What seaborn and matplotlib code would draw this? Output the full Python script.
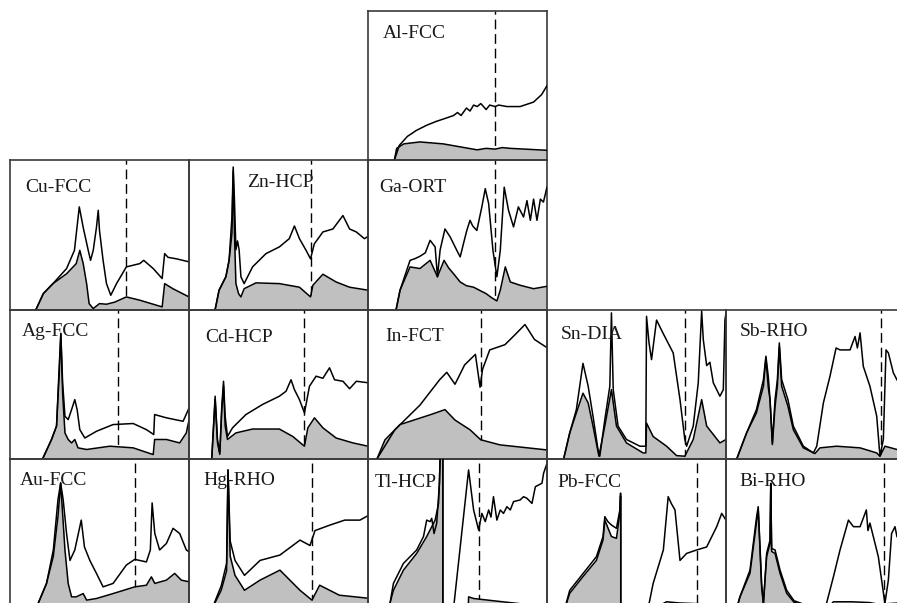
import matplotlib
matplotlib.use("Agg")
import matplotlib.pyplot as plt
import seaborn as sns

sns.set_style("white")
plt.rcParams['font.family'] = ['Liberation Serif', 'DejaVu Serif']

# ---------------- data (x: 0..100 across panel, y: 0..100 up the panel) ----------------
AL_UP_X = [14.7, 17.5, 22, 27, 32.8, 38, 43, 47.8, 50, 52, 55, 57, 59, 61, 63, 66, 68, 71, 73, 77.6, 85, 92.5, 97, 100]
AL_UP_Y = [0, 10, 16, 20, 23.5, 26, 28, 30, 32, 30, 35, 33, 37, 36, 38, 34, 37, 36, 37, 36, 36, 39, 44, 50]
AL_LO_X = [14.7, 16, 20, 29, 42, 51.5, 61, 66, 71, 75, 79.5, 89, 100]
AL_LO_Y = [0, 8, 11, 12.3, 11, 9, 7, 8, 7.5, 8.5, 8, 7.4, 6.7]

CU_UP_X = [14.5, 18.6, 24, 31.6, 36, 38.7, 40.9, 43.7, 45, 46.5, 48.3, 49.3, 50, 52, 53.9, 56.3, 59.5, 65, 72.5, 74.7, 80, 85, 86.4, 88.3, 93, 100]
CU_UP_Y = [0, 10.7, 17.4, 27.5, 39.7, 68.8, 55, 39.7, 33, 39.7, 55, 66.5, 53, 33, 17.4, 9.6, 17.4, 28.6, 30.8, 33, 27.5, 20.8, 37.5, 35, 34, 32]
CU_LO_X = [14.5, 18.6, 24, 31.6, 37, 39, 40.9, 42.8, 44.2, 46.5, 50, 53.9, 58.5, 65, 72.5, 85, 86.4, 91, 100]
CU_LO_Y = [0, 10.7, 17.4, 24, 30.8, 39.7, 30.8, 17.4, 4, 0.7, 4, 3.6, 5, 8.5, 6.3, 1.8, 17.4, 14, 8.5]

ZN_UP_X = [14.6, 16.8, 20.6, 22.4, 24, 24.7, 25.4, 26.2, 27.1, 28, 29, 30.8, 35.5, 43, 50.5, 56, 58.9, 61.7, 65.4, 67.9, 70, 74.8, 80.4, 86, 89.7, 93.5, 98, 100]
ZN_UP_Y = [0, 13, 22, 33, 62, 95.5, 73, 40, 46, 40, 22, 17.4, 28.6, 37.5, 42, 47.5, 56, 47.5, 39.7, 34, 44, 52, 54, 63, 54, 52, 47.5, 49]
ZN_LO_X = [14.6, 16.8, 20.6, 22.4, 24, 24.7, 25.4, 26.2, 27.7, 29, 30.8, 37.4, 50.5, 61.7, 67.9, 69.2, 74.8, 82.2, 89.7, 100]
ZN_LO_Y = [0, 13, 22, 33, 51, 93, 51, 17.4, 10.7, 8.5, 14, 17.9, 17.4, 15, 8.5, 16.3, 23.7, 18.5, 15, 13]

GA_UP_X = [15.7, 17.9, 23.5, 26, 29, 32, 34.7, 37.5, 38.8, 40.3, 43, 45.9, 49.6, 51.5, 53.5, 55.2, 57, 58.5, 60.8, 63.6, 65.5, 67.4, 69.8, 72, 73.9, 76.1, 78.5, 81.3, 84, 86.9, 88.8, 90.7, 92.5, 94.4, 96.3, 98, 100]
GA_UP_Y = [0, 13, 33, 34, 35.7, 38, 46.4, 42, 22, 40, 54, 48.7, 39.7, 35.3, 45, 53, 59.8, 56, 53, 68.8, 81, 71, 39.7, 22, 39.7, 82, 66.5, 55.4, 68.8, 62, 73, 59.8, 74, 59.8, 74, 72, 82]
GA_LO_X = [15.7, 17.9, 23.5, 29, 34.7, 38.8, 42.5, 45, 47.8, 51.5, 55, 59, 63, 66, 69, 72, 73.9, 76.7, 79.5, 85, 92.5, 100]
GA_LO_Y = [0, 13, 28.6, 27.5, 33, 22, 33, 28, 24, 18.5, 16, 15, 12.5, 10.7, 8, 5.8, 13, 28.6, 18.5, 16.3, 14, 15.6]

AG_UP_X = [18.2, 23.2, 26, 27.5, 28.4, 29.4, 30.7, 32.5, 34.4, 36.2, 37.5, 39, 41.8, 48.3, 57.6, 68.8, 76.2, 80.3, 80.8, 87.4, 96.7, 100]
AG_UP_Y = [0, 13, 22, 62, 84, 51, 28.6, 26.3, 33, 39.7, 33, 19.6, 14, 18.5, 23, 23.7, 19.6, 16.3, 29.7, 27.5, 25.2, 34]
AG_LO_X = [18.2, 23.2, 26, 27.5, 28.4, 29.4, 30.7, 32.5, 34.4, 36.2, 38, 42.8, 55.8, 68.8, 80, 80.8, 87.4, 94.8, 98.5, 100]
AG_LO_Y = [0, 13, 22, 57, 84, 44, 17.4, 13, 10.7, 13, 7.4, 6.3, 8.5, 7.4, 2.9, 13, 13, 10.7, 17.4, 26]

CD_UP_X = [12.7, 14.6, 15.9, 17.2, 18.3, 19.3, 20.2, 21.5, 24.3, 31.8, 41, 50.5, 54.2, 57, 58.9, 61.7, 64.5, 67.3, 71, 74.8, 78.5, 81.3, 86, 89.7, 93.5, 100]
CD_UP_Y = [0, 42, 13, 4, 35, 52, 28.6, 15, 20.8, 29.7, 36.4, 42, 45.3, 53, 46.4, 39.7, 30.8, 48.7, 55.4, 54, 61, 53, 52, 47, 52, 51]
CD_LO_X = [12.7, 14.6, 15.9, 17.2, 18.3, 19.3, 20.2, 21.5, 26.2, 35.5, 50.5, 58, 64.5, 66.4, 70.1, 74.8, 82.2, 91.6, 100]
CD_LO_Y = [0, 40, 11, 3, 32, 49, 22, 13, 17.4, 20, 20, 15, 8.5, 20.8, 27.5, 20.8, 14, 10.7, 8.5]

IN_UP_X = [5, 15, 29, 40, 44, 48.6, 54, 60, 62.6, 64, 68, 76.5, 82, 87.7, 93, 100]
IN_UP_Y = [0, 19.5, 36, 53, 58, 50, 63, 70, 48, 60, 73, 76.5, 83, 90, 80, 74.5]
IN_LO_X = [5, 9.5, 17.9, 34.6, 43, 48.6, 57, 63, 73.7, 100]
IN_LO_Y = [0, 12.8, 23, 29.5, 33, 26, 19.5, 12.8, 9.4, 6]

SN_UP_X = [9.3, 12.7, 16.4, 20.1, 23, 25.7, 28.5, 29.5, 32.3, 35.1, 36, 37, 39.7, 44.4, 51.9, 55.2, 55.6, 57, 58.4, 61.2, 64.9, 70.5, 74.3, 77, 78, 81.7, 84.5, 86.4, 87.3, 89.2, 91, 92.9, 96.6, 98.5, 99.4, 100]
SN_UP_Y = [0, 17.4, 33, 64, 48.7, 28.6, 6.3, 1.8, 26.3, 48.7, 97.8, 46.4, 22, 13, 8.5, 8.5, 95.5, 77.7, 66.5, 93, 84, 71, 39.7, 13, 8.5, 22, 51, 99, 80, 62.5, 64.7, 51, 42, 46.4, 93, 97.8]
SN_LO_X = [9.3, 12.7, 16.4, 20.1, 23, 25.7, 29, 32.3, 36, 38.8, 44.4, 53.7, 55.2, 55.6, 59.3, 66.8, 72.4, 77, 81.7, 86.4, 89.2, 96.6, 100]
SN_LO_Y = [0, 17.4, 30.8, 44, 37.5, 22, 1.8, 22, 46.4, 22, 10.7, 4, 4, 24, 15, 8.5, 2.2, 1.8, 13, 39.7, 22, 10.7, 13]

SB_UP_X = [6, 11.5, 17, 20.9, 22.3, 23.6, 24.6, 25.9, 27.4, 28.7, 29.8, 31.1, 34.6, 37.6, 43.2, 48.8, 50.7, 54.4, 58.1, 61.5, 63.7, 69.3, 72.1, 73.4, 74.9, 76.7, 80.4, 84.2, 86, 87.9, 89.4, 90.7, 93.5, 95.5, 100]
SB_UP_Y = [0, 17.4, 33, 53, 68.8, 55.4, 39.7, 10.7, 39.7, 53, 77.7, 53, 39.7, 22, 8.5, 4, 8.5, 37.5, 55.4, 74.3, 73, 73, 82, 74.3, 84.4, 62, 48.7, 28.6, 1.8, 13, 73, 71, 57.6, 53, 45]
SB_LO_X = [6, 11.5, 17, 20.9, 22.3, 23.6, 24.6, 25.9, 27.4, 28.7, 29.8, 31.1, 34.6, 37.6, 43.2, 49.7, 52.5, 61.8, 74.9, 84.2, 86, 88.8, 95.5, 100]
SB_LO_Y = [0, 17.4, 30.8, 48.7, 67.6, 48, 39.7, 9.6, 35, 48.7, 75, 48.7, 35.3, 19.6, 7.4, 3.6, 7.4, 8.5, 7.4, 4, 1.8, 8.5, 6.3, 6]

AU_UP_X = [14.5, 15.8, 20.4, 24.2, 26.8, 28.3, 29.7, 31.6, 33.5, 36.2, 39.8, 41.6, 44.6, 48.3, 52, 57.6, 65, 69.7, 76.2, 78.4, 79.4, 80.9, 83.6, 87.4, 91.1, 94.8, 98.5, 100]
AU_UP_Y = [0, 3.4, 16.6, 39, 72.7, 83.9, 72.7, 50, 32, 39, 59, 41, 32, 23.3, 14.3, 16.6, 28.9, 32.7, 31, 39, 70.5, 50, 39, 43.4, 53.5, 50, 39, 37.8]
AU_LO_X = [14.5, 15.8, 20.4, 24.2, 26.8, 28.3, 30.7, 32.5, 34.4, 37, 40.9, 42.8, 48.3, 57.6, 69.7, 76.2, 79, 80.9, 87.4, 92, 95.7, 100]
AU_LO_Y = [0, 3.4, 16.6, 34.7, 61.5, 83.9, 39, 16.6, 7.6, 7.6, 9.8, 5.4, 6.5, 9.8, 14.3, 15.4, 21, 16.6, 18.8, 23.3, 18.8, 17.7]

HG_UP_X = [13, 18, 21, 21.8, 23, 25.7, 31, 39.7, 50.8, 62, 67.6, 70.4, 78.8, 87, 95.5, 100]
HG_UP_Y = [0, 15, 30, 92.6, 45, 32, 22, 32, 35.6, 45.6, 42, 52, 55.7, 59, 59, 62]
HG_LO_X = [13, 18, 21, 21.8, 23, 25.7, 31, 39.7, 50.8, 62, 68.7, 73, 84, 100]
HG_LO_Y = [0, 12, 25, 92.6, 35, 22, 12, 18.8, 25.5, 12, 5.4, 15.4, 8.7, 6.7]

TL_UP_X = [11, 12.3, 14.2, 19.8, 27.2, 31, 32.8, 34.7, 35.6, 36.9, 38.4, 39.9, 40.5, 41.8, 41.8, 47.8, 56.2, 59, 61.8, 63.6, 65.5, 67.4, 68.7, 70.1, 72, 73.9, 75.7, 77.6, 79.5, 81.3, 85, 86.9, 88.8, 91.6, 93.5, 97.2, 98.1, 100]
TL_UP_Y = [0, 3.4, 16.6, 30, 39, 48, 59, 58, 60.2, 50, 57, 83.7, 110, 110, 0, 0, 92.6, 65.8, 52.3, 63.5, 58, 65.8, 61, 74.7, 59, 65.8, 63.5, 68, 65.8, 71.4, 72.5, 74.7, 73.6, 70.2, 81.4, 83.7, 90.4, 97]
TL_LO_X = [11, 12.3, 14.2, 19.8, 27.2, 32.8, 37.5, 39.4, 39.9, 40.5, 41.8, 41.8, 56, 56.2, 59, 70, 85, 100]
TL_LO_Y = [0, 3.4, 12, 25.5, 36.7, 48, 59, 70, 83.7, 110, 110, 0, 0, 7.6, 6.5, 5, 3, 2]

PB_UP_X = [10, 12.7, 20, 27.6, 31.3, 32.3, 34, 36, 38.8, 40.7, 41, 41.2, 41.2, 56.5, 59.3, 65, 67.7, 69.5, 71.5, 74.3, 78, 83.6, 89.2, 94.8, 97.6, 100]
PB_UP_Y = [0, 12, 23, 34.5, 48, 61.3, 58, 55.7, 53.5, 65.8, 77, 77, 0, 0, 16.6, 39, 74.7, 70, 65.8, 32, 36.7, 39, 41, 54.6, 63.5, 59]
PB_LO_X = [10, 12.7, 20, 27.6, 31.3, 32.3, 36, 38.8, 40.7, 41, 41.2, 41.2, 60, 66.8, 74, 85, 100]
PB_LO_Y = [0, 10, 21, 32, 45.6, 59, 48, 46.8, 63.5, 75, 75, 0, 0, 4.3, 3.5, 3, 2.5]

BI_UP_X = [6, 7.8, 13.4, 17.1, 18, 18.6, 19.9, 20.9, 22.7, 24.6, 25, 25.5, 27.4, 30.2, 33.9, 38, 45, 55, 56.2, 60, 63.7, 68.4, 71.2, 74.9, 78.4, 79.3, 80.4, 82.3, 85.1, 88, 88.8, 90.7, 92.5, 94.4, 95.5, 100]
BI_UP_Y = [0, 7.6, 25.5, 61.3, 68, 52, 16.6, 3, 36.7, 45.6, 83.7, 40, 39, 25.5, 12, 5, 2, 2, 3.4, 21, 39, 59, 54.6, 54.6, 65.8, 52, 57, 48, 34.5, 9.8, 3.4, 18.8, 50, 54.6, 48, 40]
BI_LO_X = [6, 7.8, 13.4, 17.1, 18, 18.6, 19.9, 20.9, 22.7, 24.6, 25, 25.5, 27.4, 30.2, 33.9, 38, 45, 58, 60, 70, 80, 86, 88.5, 90, 95.5, 100]
BI_LO_Y = [0, 7.6, 23.3, 58, 66, 50, 14, 3, 34.5, 43.4, 81, 38, 36.7, 23.3, 10, 4, 1.5, 1.5, 4.3, 4.3, 3.8, 2.5, 0.5, 3, 3.4, 3]

LABELS = ["Al-FCC", "Cu-FCC", "Zn-HCP", "Ga-ORT", "Ag-FCC", "Cd-HCP", "In-FCT",
          "Sn-DIA", "Sb-RHO", "Au-FCC", "Hg-RHO", "Tl-HCP", "Pb-FCC", "Bi-RHO"]
FERMI = [71, 65, 67.9, 71, 60.4, 64.5, 63, 77, 86.6, 69.7, 68.7, 62, 84, 88.3]

SERIES = [
    (AL_UP_X, AL_UP_Y, AL_LO_X, AL_LO_Y), (CU_UP_X, CU_UP_Y, CU_LO_X, CU_LO_Y),
    (ZN_UP_X, ZN_UP_Y, ZN_LO_X, ZN_LO_Y), (GA_UP_X, GA_UP_Y, GA_LO_X, GA_LO_Y),
    (AG_UP_X, AG_UP_Y, AG_LO_X, AG_LO_Y), (CD_UP_X, CD_UP_Y, CD_LO_X, CD_LO_Y),
    (IN_UP_X, IN_UP_Y, IN_LO_X, IN_LO_Y), (SN_UP_X, SN_UP_Y, SN_LO_X, SN_LO_Y),
    (SB_UP_X, SB_UP_Y, SB_LO_X, SB_LO_Y), (AU_UP_X, AU_UP_Y, AU_LO_X, AU_LO_Y),
    (HG_UP_X, HG_UP_Y, HG_LO_X, HG_LO_Y), (TL_UP_X, TL_UP_Y, TL_LO_X, TL_LO_Y),
    (PB_UP_X, PB_UP_Y, PB_LO_X, PB_LO_Y), (BI_UP_X, BI_UP_Y, BI_LO_X, BI_LO_Y),
]

# ---------------- layout ----------------
GRID = [(0, 2), (1, 0), (1, 1), (1, 2), (2, 0), (2, 1), (2, 2), (2, 3), (2, 4),
        (3, 0), (3, 1), (3, 2), (3, 3), (3, 4)]
LABEL_OFF = [(15, 23), (15, 27), (58, 22), (11, 27), (12, 22), (16, 28), (17, 27),
             (14, 25), (14, 22), (10, 22), (14, 22), (7, 24), (10, 24), (13, 23)]

W, H = 897, 603
PW, PH = 179, 149.3
fig = plt.figure(figsize=(W / 100, H / 100), dpi=100)
fig.patch.set_facecolor("white")

for i, (r, c) in enumerate(GRID):
    left = 10 + PW * c
    top = 11 + PH * r
    ax = fig.add_axes([left / W, 1 - (top + PH) / H, PW / W, PH / H])
    ax.set_facecolor("none")
    ux, uy, lx, ly = SERIES[i]
    ax.axvline(FERMI[i], color="black", lw=1.0, dashes=(7, 3.5), zorder=1)
    ax.fill_between(lx, ly, 0, color="#c0c0c0", lw=0, zorder=2)
    sns.lineplot(x=ux, y=uy, ax=ax, color="black", linewidth=1.1,
                 estimator=None, sort=False, legend=False, zorder=3)
    sns.lineplot(x=lx, y=ly, ax=ax, color="black", linewidth=1.1,
                 estimator=None, sort=False, legend=False, zorder=3)
    ax.set_xlim(0, 100)
    ax.set_ylim(0, 100)
    ax.set_xticks([])
    ax.set_yticks([])
    ax.set_xlabel("")
    ax.set_ylabel("")
    for s in ax.spines.values():
        s.set_visible(True)
        s.set_color("#3a3a3a")
        s.set_linewidth(1.2)
    ox, oy = LABEL_OFF[i]
    ax.text(ox / PW, 1 - oy / PH, LABELS[i], transform=ax.transAxes,
            ha="left", va="center", fontsize=14, color="#1a1a1a", zorder=4)

fig.savefig("out.png", dpi=100, facecolor="white")
